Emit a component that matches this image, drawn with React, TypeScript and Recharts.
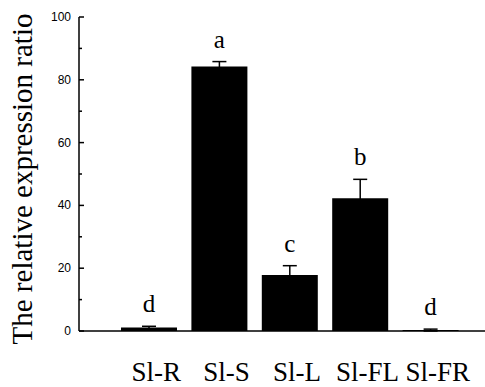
import React from 'react';
import { BarChart, Bar, XAxis, YAxis, ErrorBar, LabelList } from 'recharts';

const categories = ['Sl-R', 'Sl-S', 'Sl-L', 'Sl-FL', 'Sl-FR'];
const values = [1.1, 84.2, 17.8, 42.3, 0.3];
const errors = [0.4, 1.6, 3.0, 6.0, 0.3];
const letters = ['d', 'a', 'c', 'b', 'd'];
const yTicks = [0, 10, 20, 30, 40, 50, 60, 70, 80, 90, 100];

const data = categories.map((c, i) => ({
  name: c,
  value: values[i],
  err: errors[i],
  letter: letters[i],
}));

const YTick = (props: any) => {
  const { x, y, payload } = props;
  const major = payload.value % 20 === 0;
  return (
    <g>
      <line x1={x} y1={y} x2={x + (major ? 5 : 3)} y2={y} stroke="#000" strokeWidth={1.5} />
      {major && (
        <text x={x - 8} y={y} textAnchor="end" dominantBaseline="central"
          fontFamily="'Liberation Sans', Arial, sans-serif" fontSize={12} fill="#000">
          {payload.value}
        </text>
      )}
    </g>
  );
};

const XTick = (props: any) => {
  const { x, y, payload } = props;
  return (
    <text x={x + 7} y={y + 50} textAnchor="middle"
      fontFamily="'Liberation Serif', 'Times New Roman', serif" fontSize={27} fill="#000">
      {payload.value}
    </text>
  );
};

const LetterLabel = (props: any) => {
  const { x, y, width, value } = props;
  return (
    <text x={x + width / 2} y={y - 14} textAnchor="middle"
      fontFamily="'Liberation Serif', 'Times New Roman', serif" fontSize={25} fill="#000">
      {value}
    </text>
  );
};

const YTitle = () => (
  <text x={32} y={179} transform="rotate(-90, 32, 179)" textAnchor="middle"
    fontFamily="'Liberation Serif', 'Times New Roman', serif" fontSize={29} fill="#000">
    The relative expression ratio
  </text>
);

export default function App() {
  return (
    <div style={{ position: 'absolute', left: 0, top: 0, background: '#fff' }}>
      <BarChart width={485} height={387} data={data}
        margin={{ top: 17, right: 0, left: 0, bottom: 0 }}>
        <XAxis dataKey="name" height={56} padding={{ left: 35, right: 19 }}
          axisLine={{ stroke: '#000', strokeWidth: 1.5 }} tickLine={false}
          tickSize={0} tickMargin={0} tick={<XTick />} interval={0} />
        <YAxis width={79} domain={[0, 100]} ticks={yTicks} interval={0}
          axisLine={{ stroke: '#000', strokeWidth: 1.5 }} tickLine={false}
          tickSize={0} tickMargin={0} tick={<YTick />}
          label={{ content: <YTitle /> }} />
        <Bar dataKey="value" stackId="s" fill="#000" barSize={56} isAnimationActive={false}>
          <ErrorBar dataKey="err" direction="y" width={7} stroke="#000" strokeWidth={1.5} />
        </Bar>
        <Bar dataKey="err" stackId="s" fill="transparent" barSize={56} isAnimationActive={false}>
          <LabelList dataKey="letter" content={<LetterLabel />} />
        </Bar>
      </BarChart>
    </div>
  );
}
